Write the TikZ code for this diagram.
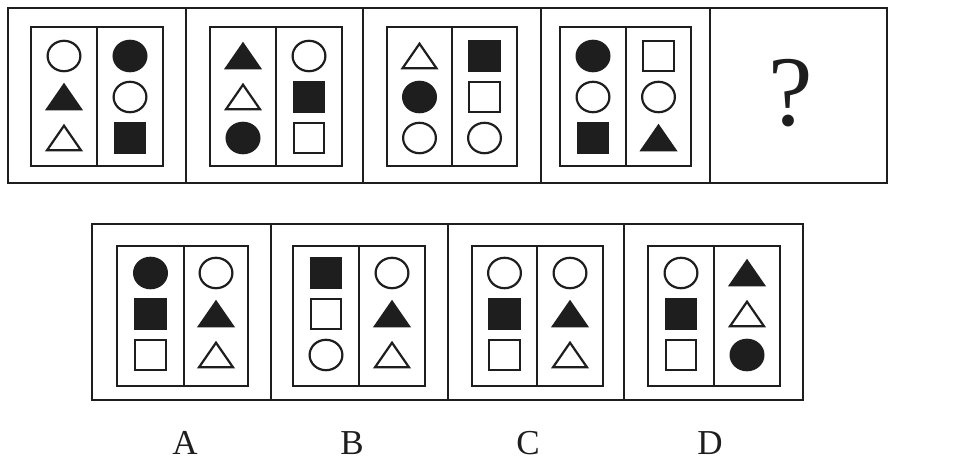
\documentclass[tikz,border=0pt]{standalone}
\usepackage{fontspec}
\setmainfont{Liberation Serif}
\definecolor{ink}{HTML}{1E1E1E}
\tikzset{
  outerln/.style={draw=ink, line width=2.9pt},
  innerln/.style={draw=ink, line width=2.6pt},
  shp/.style={draw=ink, line width=2.2pt},
  shpf/.style={draw=ink, fill=ink, line width=2.2pt},
  pics/ocirc/.style={code={\draw[shp] (0,0) ellipse[x radius=16.4pt, y radius=15.2pt];}},
  pics/fcirc/.style={code={\draw[shpf] (0,0) ellipse[x radius=16.4pt, y radius=15.2pt];}},
  pics/osq/.style={code={\draw[shp] (-15.2,-14.8) rectangle (15.2,14.8);}},
  pics/fsq/.style={code={\draw[shpf] (-15.2,-14.8) rectangle (15.2,14.8);}},
  pics/otri/.style={code={\draw[shp, line join=miter] (-17,12.3) -- (17,12.3) -- (0,-12.3) -- cycle;}},
  pics/ftri/.style={code={\draw[shpf, line join=miter] (-17,12.3) -- (17,12.3) -- (0,-12.3) -- cycle;}},
  lbl/.style={font=\fontsize{35pt}{40pt}\selectfont, text=ink, anchor=base, inner sep=0pt}
}
\newcommand\shapecol[5]{%
  \pic at (#1,#2) {#3};
  \pic at (#1,#2+41) {#4};
  \pic at (#1,#2+82) {#5};
}
\begin{document}
\begin{tikzpicture}[x=1pt,y=-1pt]
\useasboundingbox (0,0) rectangle (961,458);
\fill[white] (0,0) rectangle (961,458);
% ---------- top row ----------
\draw[outerln] (8,8) rectangle (887,183);
\foreach \d in {186,363,541,710} \draw[outerln] (\d,8) -- (\d,183);
% panel 1
\draw[innerln] (31,27) rectangle (163,166); \draw[innerln] (97,27) -- (97,166);
\shapecol{64}{56}{ocirc}{ftri}{otri}
\shapecol{130}{56}{fcirc}{ocirc}{fsq}
% panel 2
\draw[innerln] (210,27) rectangle (342,166); \draw[innerln] (276,27) -- (276,166);
\shapecol{243}{56}{ftri}{otri}{fcirc}
\shapecol{309}{56}{ocirc}{fsq}{osq}
% panel 3
\draw[innerln] (387,27) rectangle (517,166); \draw[innerln] (452,27) -- (452,166);
\shapecol{419.5}{56}{otri}{fcirc}{ocirc}
\shapecol{484.5}{56}{fsq}{osq}{ocirc}
% panel 4
\draw[innerln] (560,27) rectangle (691,166); \draw[innerln] (626,27) -- (626,166);
\shapecol{593}{56}{fcirc}{ocirc}{fsq}
\shapecol{658.5}{56}{osq}{ocirc}{ftri}
% question
\node[font=\fontsize{100pt}{110pt}\selectfont, text=ink, anchor=base, inner sep=0pt] (q) at (791,125) {?};
% ---------- bottom row ----------
\draw[outerln] (92,224) rectangle (803,400);
\foreach \d in {271,448,624} \draw[outerln] (\d,224) -- (\d,400);
% A
\draw[innerln] (117,246) rectangle (248,386); \draw[innerln] (184,246) -- (184,386);
\shapecol{150.5}{273}{fcirc}{fsq}{osq}
\shapecol{216}{273}{ocirc}{ftri}{otri}
% B
\draw[innerln] (293,246) rectangle (425,386); \draw[innerln] (359,246) -- (359,386);
\shapecol{326}{273}{fsq}{osq}{ocirc}
\shapecol{392}{273}{ocirc}{ftri}{otri}
% C
\draw[innerln] (472,246) rectangle (603,386); \draw[innerln] (537,246) -- (537,386);
\shapecol{504.5}{273}{ocirc}{fsq}{osq}
\shapecol{570}{273}{ocirc}{ftri}{otri}
% D
\draw[innerln] (648,246) rectangle (780,386); \draw[innerln] (714,246) -- (714,386);
\shapecol{681}{273}{ocirc}{fsq}{osq}
\shapecol{747}{273}{ftri}{otri}{fcirc}
% labels
\node[lbl] (lA) at (185,454) {A};
\node[lbl] (lB) at (352,454) {B};
\node[lbl] (lC) at (528,454) {C};
\node[lbl] (lD) at (710,454) {D};
\end{tikzpicture}
\end{document}
